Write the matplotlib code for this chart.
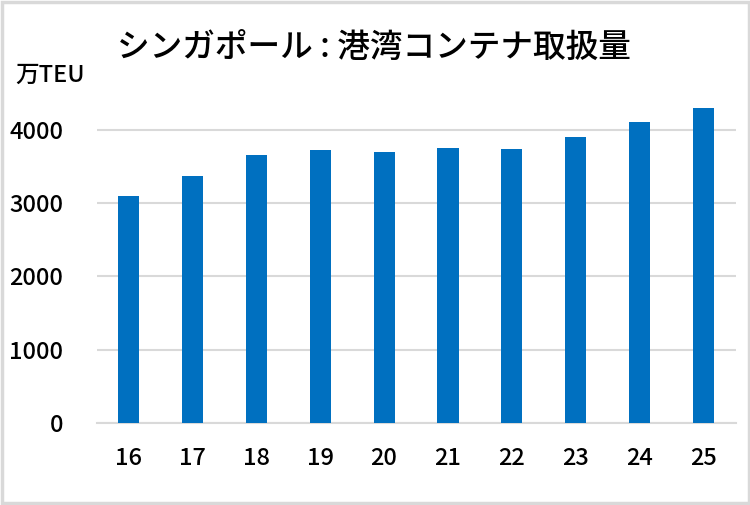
import matplotlib.pyplot as plt
from matplotlib.patches import Rectangle

plt.rcParams['font.family'] = ['Noto Sans CJK JP', 'DejaVu Sans']

# データ（万TEU）
years = ['16', '17', '18', '19', '20', '21', '22', '23', '24', '25']
teu = [3090, 3370, 3660, 3720, 3690, 3750, 3730, 3900, 4110, 4300]
yticks = [0, 1000, 2000, 3000, 4000]

fig = plt.figure(figsize=(7.5, 5.05), dpi=100)
ax = fig.add_axes([0.1287, 1 - 423 / 505, 0.852, (423 - 93) / 505])

x = range(len(years))
ax.bar(x, teu, width=0.33, color='#0070c0', zorder=3)

ax.set_xlim(-0.5, len(years) - 0.5)
ax.set_ylim(0, 4500)
ax.set_yticks(yticks)
ax.set_xticks(list(x))
ax.set_xticklabels(years)
ax.grid(axis='y', color='#d9d9d9', linewidth=1.5, zorder=0)
for s in ['top', 'right', 'left']:
    ax.spines[s].set_visible(False)
ax.spines['bottom'].set_color('#d9d9d9')
ax.spines['bottom'].set_linewidth(1.5)
ax.tick_params(axis='y', length=0, pad=24, labelsize=17)
ax.tick_params(axis='x', length=0, pad=17, labelsize=17)
for lbl in ax.get_xticklabels() + ax.get_yticklabels():
    lbl.set_fontweight('medium')

fig.text(0.499, 1 - 47 / 505, 'シンガポール : 港湾コンテナ取扱量', ha='center', va='center',
         fontsize=23.5, fontweight='medium')
fig.text(15 / 750, 1 - 75 / 505, '万TEU', ha='left', va='center', fontsize=17,
         fontweight='medium')

# 外枠
fig.add_artist(Rectangle((0.002, 0.003), 0.996, 0.994, transform=fig.transFigure,
                         fill=False, edgecolor='#d9d9d9', linewidth=2.5))

fig.savefig('out.png', dpi=100)
